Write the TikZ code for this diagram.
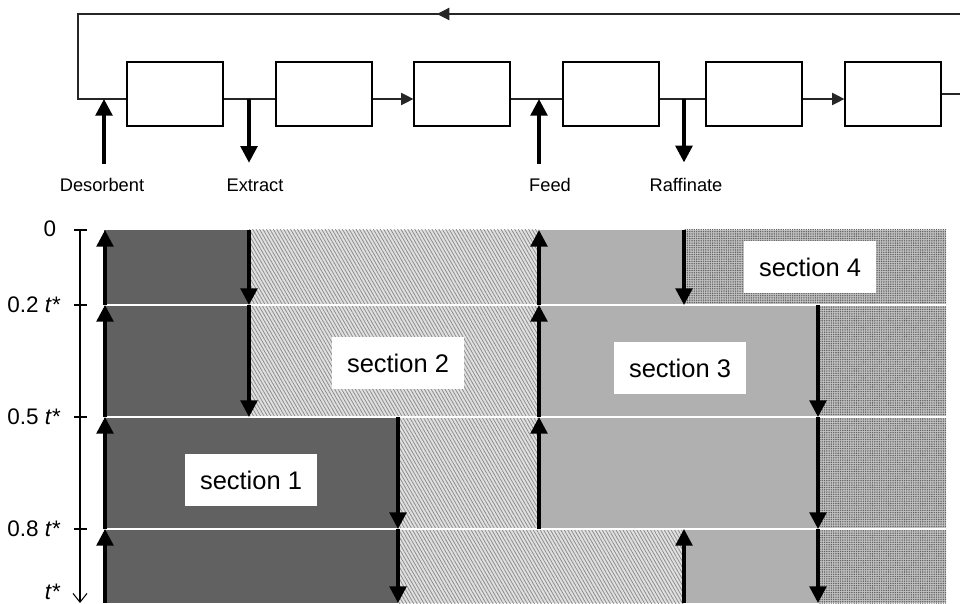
\documentclass[tikz,border=0pt]{standalone}
\usepackage{fontspec}
\setmainfont{Liberation Sans}
\usetikzlibrary{arrows.meta, patterns.meta, positioning, calc}

\begin{document}
\begin{tikzpicture}[x=0.02cm, y=-0.02cm,
    column/.style={draw, line width=0.7pt, minimum width=1.92cm, minimum height=1.28cm, inner sep=0pt},
    flow/.style={line width=0.7pt, draw=black!85},
    flowtip/.style={-{Triangle[length=7pt, width=7pt]}},
    port/.style={line width=2pt, -{Triangle[length=9.5pt, width=9.5pt]}},
    portlabel/.style={font=\fontsize{10.4}{12}\selectfont},
    ticklabel/.style={anchor=east, font=\fontsize{12.8}{15}\selectfont},
    seclabel/.style={fill=white, minimum width=2.66cm, minimum height=1.06cm, font=\fontsize{14.5}{17}\selectfont},
    secA/.style={fill=black!62},
    secB/.style={fill=black!12, postaction={pattern={Lines[angle=-60, distance=1.7pt, line width=0.45pt]}, pattern color=black!45}},
    secC/.style={fill=black!31},
    secD/.style={fill=black!24, postaction={pattern={Dots[distance=1.3pt, radius=0.45pt]}, pattern color=black!62}}
]
\useasboundingbox (0,0) rectangle (960,604);

% columns of the unit
\node[column] (c1) at (175,94) {};
\node[column] (c2) at (324,94) {};
\node[column] (c3) at (462,94) {};
\node[column] (c4) at (611,94) {};
\node[column] (c5) at (754,94) {};
\node[column] (c6) at (893,94) {};

% ports on the flow line
\coordinate (loopL) at (78,99);
\coordinate (pD) at (104,99);
\coordinate (pE) at (249,99);
\coordinate (pF) at (539,99);
\coordinate (pR) at (684,99);

% recycle loop
\draw[flow] (c6.east) -- ++(60,0) |- (78,14) -- (loopL) -- (c1.west |- loopL);
\draw[flow, flowtip] (452,14) -- (437,14);
\foreach \a/\b in {c1/c2, c3/c4, c4/c5}
  \draw[flow] (\a.east |- loopL) -- (\b.west |- loopL);
\foreach \a/\b in {c2/c3, c5/c6}
  \draw[flow, flowtip] (\a.east |- loopL) -- (\b.west |- loopL);

% inlets and outlets
\node[portlabel] (desorbent) at (102,185) {Desorbent};
\node[portlabel] (extract) at (255,185) {Extract};
\node[portlabel] (feed) at (550,185) {Feed};
\node[portlabel] (raffinate) at (686,185) {Raffinate};
\draw[port, shorten <=4.5pt] (desorbent.north -| pD) -- (pD);
\draw[port, shorten >=5.5pt] (pE) -- (extract.north -| pE);
\draw[port, shorten <=4.5pt] (feed.north -| pF) -- (pF);
\draw[port, shorten >=5.5pt] (pR) -- (raffinate.north -| pR);

% switching chart
\foreach \ya/\yb/\xe/\xf/\xr in {230/305/249/539/684, 305/417/249/539/818, 417/529/398/539/818, 529/603/398/684/818} {
  \path[secA] (104,\ya) rectangle (\xe,\yb);
  \path[secB] (\xe,\ya) rectangle (\xf,\yb);
  \path[secC] (\xf,\ya) rectangle (\xr,\yb);
  \path[secD] (\xr,\ya) rectangle (946,\yb);
}
\foreach \y in {305,417,529}
  \draw[white, line width=1pt] (104,\y) -- (946,\y);
\foreach \ya/\yb/\xe/\xf/\xr in {230/305/249/539/684, 305/417/249/539/818, 417/529/398/539/818, 529/603/398/684/818} {
  \draw[port] (105,\yb) -- (105,\ya);
  \draw[port] (\xe,\ya) -- (\xe,\yb);
  \draw[port] (\xf,\yb) -- (\xf,\ya);
  \draw[port] (\xr,\ya) -- (\xr,\yb);
}

\node[seclabel] (s1) at (251,480) {section 1};
\node[seclabel] (s2) at (398,363) {section 2};
\node[seclabel] (s3) at (680,368) {section 3};
\node[seclabel] (s4) at (810,267) {section 4};

% time axis
\draw[line width=0.6pt, -{Straight Barb[length=5pt, width=8pt]}] (80,230) -- (80,603);
\foreach \y in {230,305,417,529}
  \draw[line width=0.6pt] (74,\y) -- (87,\y);
\node[ticklabel, anchor=center] (t0) at (50,229) {0};
\node[ticklabel] (t1) at (66,305) {0.2\ {\itshape t*}};
\node[ticklabel] (t2) at (66,417) {0.5\ {\itshape t*}};
\node[ticklabel] (t3) at (66,529) {0.8\ {\itshape t*}};
\node[ticklabel] (t4) at (66,592) {{\itshape t*}};
\end{tikzpicture}
\end{document}
